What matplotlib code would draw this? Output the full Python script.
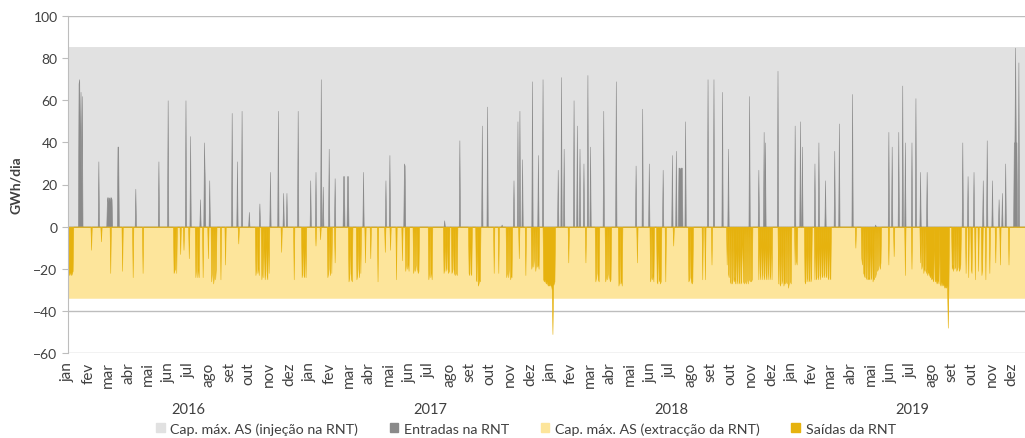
import numpy as np
import matplotlib.pyplot as plt

plt.rcParams['font.family'] = ['Lato', 'DejaVu Sans']

# ---- data (day index 0 = 2016-01-01, values in GWh/dia) ----
n_days = 1461
cap_injection = 85.5      # Cap. máx. AS (injeção na RNT)
cap_extraction = -34.0    # Cap. máx. AS (extracção da RNT)

# entradas na RNT: (first day, daily values)
entries_2016 = [
    (16, [68]), (17, [70, 30, 64, 20]), (21, [62]), (46, [31]),
    (59, [14, 12, 14, 13, 14, 12, 14, 13]), (75, [38, 38]), (102, [18]),
    (137, [31]), (151, [60]), (178, [60]), (185, [43]), (200, [13]),
    (206, [40, 25]), (214, [22]), (248, [54]), (256, [31]), (263, [55]),
    (274, [7]), (290, [11]), (306, [26]), (318, [55]), (326, [16]),
    (331, [16]), (348, [55]),
]
entries_2017 = [
    (367, [22]), (375, [26]), (383, [70]), (386, [19]), (395, [37]),
    (404, [23]), (417, [24, 24]), (423, [24, 24]), (447, [26]), (481, [22]),
    (487, [34]), (509, [30, 29]), (570, [3]), (593, [41]), (627, [48]),
    (635, [57]), (657, [1]), (675, [22]), (681, [50]), (684, [55]),
    (688, [32]), (703, [69]), (712, [34]), (719, [70]),
]
entries_2018 = [
    (742, [27]), (747, [71]), (751, [37]), (766, [60]), (771, [48]),
    (775, [37]), (781, [30]), (787, [72]), (791, [38]), (811, [55]),
    (830, [69]), (860, [29]), (870, [56]), (880, [30]), (901, [27]),
    (915, [34]), (921, [36]), (925, [28, 28, 27, 28, 28, 28]), (935, [50]),
    (969, [70]), (978, [70]), (991, [64]), (1000, [37]), (1032, [62]),
    (1046, [27]), (1054, [45]), (1056, [40]), (1075, [74]),
]
entries_2019 = [
    (1101, [48]), (1109, [50]), (1112, [38]), (1131, [30]), (1137, [40]),
    (1147, [22]), (1161, [36]), (1168, [49]), (1188, [63]), (1223, [1]),
    (1243, [45]), (1248, [38]), (1258, [45]), (1264, [67]), (1268, [40]),
    (1278, [40]), (1284, [61]), (1291, [26]), (1301, [26]), (1355, [40]),
    (1363, [24]), (1372, [26]), (1386, [22]), (1392, [41]), (1400, [22]),
    (1410, [13]), (1415, [16]), (1420, [30]), (1433, [40, 40, 85, 40, 40]),
    (1440, [78]),
]

# saídas da RNT: (first day, daily values)
exits_2016 = [
    (0, [-22, -22, -23, -22, -22, -23, -22, -21]), (35, [-11]), (50, [-7]),
    (64, [-22]), (82, [-21]), (98, [-24]), (113, [-22]),
    (160, [-22, -21, -20, 0, -22]), (170, [-13]), (175, [-11]), (183, [-15]),
    (193, [-24, -20, 0, -24, -18, -24]), (204, [-24]), (212, [-15]),
    (217, [-26, -22, 0, -27, -24, 0, -25, -20]), (231, [-25]),
    (238, [-18]), (258, [-8]), (284, [-23, -20, 0, -22, -18, -23]),
    (293, [-25, -22, 0, -24, 0, -25, -21, 0, -23, -25, 0, -22]),
    (323, [-12]), (342, [-25]), (354, [-24, -22, 0, -23, -24, 0, -24]),
]
exits_2017 = [
    (375, [-9]), (382, [-6]), (393, [-24, -22, 0, -20, -23, 0, -22]),
    (404, [-17]), (425, [-26, -24, 0, -22, -25, -26]),
    (437, [-25, -23, 0, -20, -24, 0, -22]), (450, [-17]), (458, [-15]),
    (469, [-26]), (480, [-12]), (488, [-11]), (497, [-25]), (506, [-16]),
    (511, [-21, -18, 0, -20, -16, -21]),
    (523, [-22, -20, 0, -21, -18, 0, -20, -22, -21]),
    (546, [-25, -22, 0, -24, -20, -25]),
    (569, [-22, -20, 0, -21, -19, 0, -20, -22, -21]),
    (581, [-22, -21, 0, -20, -22, -23, 0, -22, -23]),
    (607, [-22, -23, 0, -22, -23]), (618, [-25, -26, 0, -28, -27, -25, -26]),
    (645, [-22]), (652, [-22]), (664, [-24, -22, 0, -24, -20, 0, -25, -23, -24]),
    (683, [-15]), (693, [-23]),
    (702, [-20, -18, 0, -19, -15, 0, -21, -18, 0, -19, -17, -20]),
    (720, [-25, -26, -25, -26, -27, -26, -27, -28, -27, -28, -27]),
]
exits_2018 = [
    (731, [-28, -28, -30, -51, -28, -27, -26]), (758, [-17]), (784, [-17]),
    (799, [-26, -24, 0, -22, -25, -26]),
    (814, [-26, -24, 0, -25, -22, 0, -24, -26, -25]),
    (834, [-28, -26, 0, -27, -25, -28]), (862, [-17]),
    (882, [-26, -24, 0, -25, -22, -26]),
    (892, [-26, -27, 0, -26, -24, -27, -26]), (905, [-26]), (917, [-9]),
    (940, [-26, -25, 0, -24, -26, -27, -26]), (961, [-25]), (965, [-25]),
    (975, [-18]),
    (998, [-18, 0, -22, -24, 0, -26, -27, 0, -27, -25, 0, -26, -24, -27, 0,
           -27, -25, 0, -27, -26, 0, -27, -26, 0, -15, -26, -27, 0, -26, -27,
           0, -25, -27, 0, -25, -26, 0, -26, -25]),
    (1046, [-25, 0, -22, -25, 0, -20, -25, 0, -23, -25, 0, -22, -25, 0, -25,
            -20, 0, -25, -23, 0, -25]),
    (1076, [-27, 0, -27, -28, 0, -27, -25, 0, -28, -26, -27, 0, -26, -27, 0,
            -29, -27, 0, -26, -27]),
]
exits_2019 = [
    (1101, [-18, 0, -16, -18]),
    (1116, [-26, -27, 0, -26, -24, 0, -26, -25, 0, -26, -24]),
    (1131, [-25, 0, -25, -24, 0, -25, -23, 0, -25, -22, 0, -24, -23, 0, -24,
            -22, 0, -24, -23, 0, -24, -25, 0, -24, -25]),
    (1193, [-10]),
    (1202, [-15, -18, 0, -22, -23, -24, 0, -24, -25, 0, -25, -24, -25, 0,
            -25, -24, 0, -26, -24, -25, 0, -24, -22, 0, -21, -20, 0, -18,
            -20, -17]),
    (1243, [-18]), (1251, [-14]), (1268, [-23]), (1278, [-20]),
    (1291, [-17, 0, -20, -18, 0, -22, -19, -21, 0, -22, -20, -23, -21, -22,
            -23]),
    (1306, [-24, -23, -25, -24, -25, -26, 0, -25, -26, -25, -27, -26, -25,
            -27, 0, -27, -28, -26, -27, -28, -27, -28, -29, -28, -29, -28,
            -29, -48, -28]),
    (1339, [-20, -18, -21, 0, -20, -19, 0, -21, -20, 0, -19, -21, -20, -18]),
    (1360, [-22]), (1364, [-24]), (1368, [-20, -22]), (1374, [-25]),
    (1379, [-21]), (1384, [-23, -20]), (1390, [-25]), (1396, [-22]),
    (1405, [-17]), (1412, [-18]), (1425, [-18]),
]

months = ['jan', 'fev', 'mar', 'abr', 'mai', 'jun',
          'jul', 'ago', 'set', 'out', 'nov', 'dez']
years = ['2016', '2017', '2018', '2019']


def to_daily(*groups):
    out = np.zeros(n_days)
    for grp in groups:
        for start, vals in grp:
            out[start:start + len(vals)] = vals
    return out


entries = to_daily(entries_2016, entries_2017, entries_2018, entries_2019)
exits = to_daily(exits_2016, exits_2017, exits_2018, exits_2019)
days = np.arange(n_days)

# month starts (day index) for the tick labels
month_len = [31, 29, 31, 30, 31, 30, 31, 31, 30, 31, 30, 31,
             31, 28, 31, 30, 31, 30, 31, 31, 30, 31, 30, 31,
             31, 28, 31, 30, 31, 30, 31, 31, 30, 31, 30, 31,
             31, 28, 31, 30, 31, 30, 31, 31, 30, 31, 30, 31]
month_starts = np.concatenate([[0], np.cumsum(month_len)[:-1]])
year_starts = [0, 366, 731, 1096, 1461]

# ---- figure ----
c_cap_inj = '#e1e1e1'
c_entries = '#8a8a8a'
c_cap_ext = '#fde59b'
c_exits = '#e6b20e'
txt = '#404040'

fig = plt.figure(figsize=(10.25, 4.39), dpi=100)
ax = fig.add_axes([68 / 1025, 85 / 439, 963.6 / 1025, 337 / 439])

ax.fill_between(days, 0, np.full(n_days, cap_injection), color=c_cap_inj, lw=0)
ax.fill_between(days, np.full(n_days, cap_extraction), 0, color=c_cap_ext, lw=0)
ax.fill_between(days, 0, entries, color=c_entries, lw=0.4, edgecolor=c_entries)
ax.fill_between(days, exits, 0, color=c_exits, lw=0.4, edgecolor=c_exits)

ax.set_xlim(0, 1460)
ax.set_ylim(-60, 100)
ax.set_yticks(range(-60, 101, 20))
ax.yaxis.grid(True, color='#bdbdbd', lw=1)
ax.set_axisbelow(True)
for s in ['top', 'right', 'bottom']:
    ax.spines[s].set_visible(False)
ax.spines['left'].set_color('#bdbdbd')
ax.tick_params(axis='y', labelsize=10, colors=txt, length=4, color='#bdbdbd')
ax.set_ylabel('GWh/dia', fontsize=10, fontweight='bold', color=txt, labelpad=8)

ax.set_xticks(month_starts)
ax.set_xticklabels(months * 4, rotation=90, fontsize=11, color=txt)
ax.tick_params(axis='x', length=0, pad=6)

for i, yr in enumerate(years):
    mid = (year_starts[i] + year_starts[i + 1]) / 2
    ax.text(mid, -0.166, yr, transform=ax.get_xaxis_transform(),
            ha='center', va='center', fontsize=10.5, color=txt)

handles = [plt.Rectangle((0, 0), 1, 1, color=c) for c in
           [c_cap_inj, c_entries, c_cap_ext, c_exits]]
labels = ['Cap. máx. AS (injeção na RNT)', 'Entradas na RNT',
          'Cap. máx. AS (extracção da RNT)', 'Saídas da RNT']
fig.legend(handles, labels, loc='center', bbox_to_anchor=(0.513, 0.022),
           ncol=4, frameon=False, fontsize=10.3, handlelength=0.6,
           handleheight=0.6, handletextpad=0.4, columnspacing=2.2,
           labelcolor=txt)

fig.savefig('out.png', dpi=100)
